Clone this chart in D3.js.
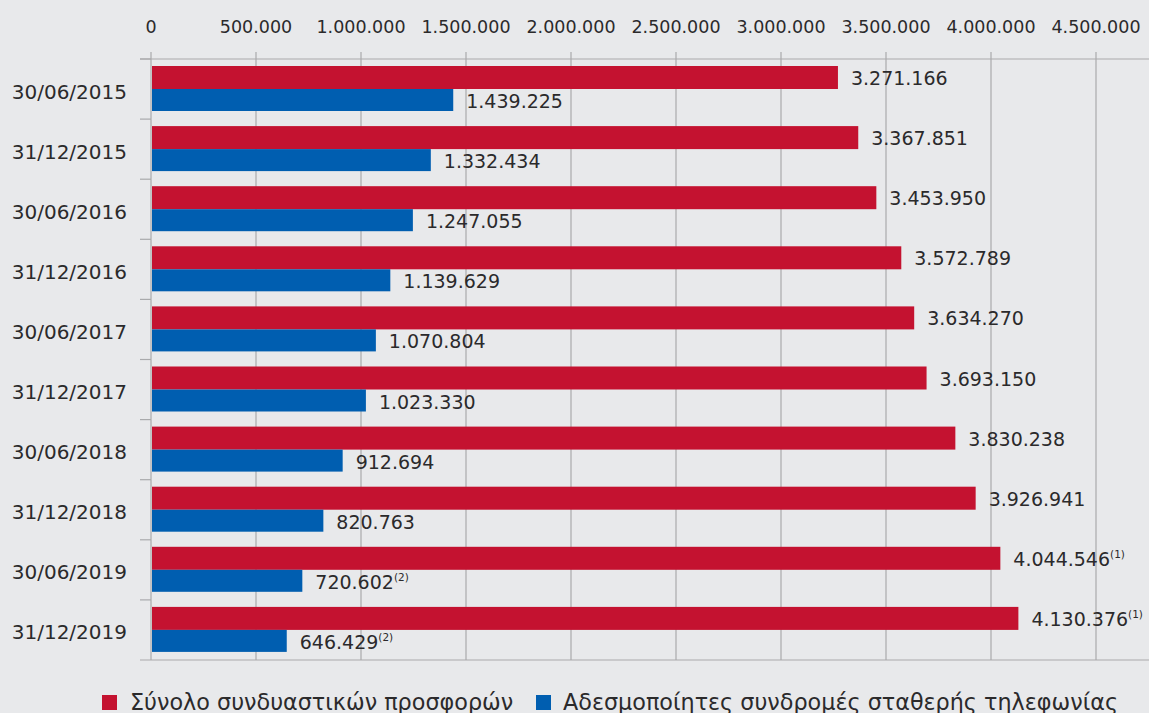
<!DOCTYPE html>
<html><head><meta charset="utf-8">
<script src="https://cdn.jsdelivr.net/npm/d3@7"></script>
<style>
html,body{margin:0;padding:0;background:#e8e9eb;}
svg{display:block;font-family:"DejaVu Sans","Noto Sans",sans-serif;}
</style></head>
<body>
<svg id="chart" width="1149" height="713"></svg>
<script>
const categories = ["30/06/2015","31/12/2015","30/06/2016","31/12/2016","30/06/2017","31/12/2017","30/06/2018","31/12/2018","30/06/2019","31/12/2019"];
const bundles = [3271166,3367851,3453950,3572789,3634270,3693150,3830238,3926941,4044546,4130376];
const standalone = [1439225,1332434,1247055,1139629,1070804,1023330,912694,820763,720602,646429];
const bundleNotes = ["","","","","","","","","(1)","(1)"];
const standaloneNotes = ["","","","","","","","","(2)","(2)"];
const tickValues = [0,500000,1000000,1500000,2000000,2500000,3000000,3500000,4000000,4500000];
const seriesNames = ["Σύνολο συνδυαστικών προσφορών","Αδεσμοποίητες συνδρομές σταθερής τηλεφωνίας"];
const colors = ["#c41230","#005eb0"];

const loc = d3.formatLocale({decimal:",",thousands:".",grouping:[3],currency:["","€"]});
const fmt = loc.format(",d");

const svg = d3.select("#chart");
const W = 1149, H = 713;
const ink = "#2b2a2b";
svg.append("rect").attr("width",W).attr("height",H).attr("fill","#e8e9eb");

const x = d3.scaleLinear().domain([0,4500000]).range([151,1096]);
const y = d3.scaleBand().domain(categories).range([59,660]).paddingInner(0).paddingOuter(0);
const grid = "#a9aaac";

svg.append("g").selectAll("line").data(tickValues).join("line")
  .attr("x1",d=>x(d)).attr("x2",d=>x(d)).attr("y1",52).attr("y2",660)
  .attr("stroke",grid).attr("stroke-width",1.2);
svg.append("line").attr("x1",140).attr("x2",W).attr("y1",59).attr("y2",59).attr("stroke",grid).attr("stroke-width",1.2);
svg.append("line").attr("x1",140).attr("x2",W).attr("y1",660).attr("y2",660).attr("stroke",grid).attr("stroke-width",1.2);
svg.append("g").selectAll("line").data(categories).join("line")
  .attr("x1",140).attr("x2",151).attr("y1",d=>y(d)).attr("y2",d=>y(d))
  .attr("stroke",grid).attr("stroke-width",1.2);

svg.append("g").selectAll("text").data(tickValues).join("text")
  .attr("x",d=>x(d)).attr("y",33).attr("text-anchor","middle")
  .attr("font-size",17.5).attr("fill",ink)
  .text(d=>d===0?"0":fmt(d));

svg.append("g").selectAll("text").data(categories).join("text")
  .attr("x",127).attr("y",d=>y(d)+y.bandwidth()/2+9.5).attr("text-anchor","end")
  .attr("font-size",20).attr("fill",ink).text(d=>d);

const barH = 23, off = 7;
const rows = categories.map((c,i)=>({c,i}));
svg.append("g").selectAll("rect").data(rows).join("rect")
  .attr("x",x(0)+1).attr("y",d=>y(d.c)+off).attr("height",barH)
  .attr("width",d=>x(bundles[d.i])-x(0)-1).attr("fill",colors[0]);
svg.append("g").selectAll("rect").data(rows).join("rect")
  .attr("x",x(0)+1).attr("y",d=>y(d.c)+off+barH).attr("height",barH-1)
  .attr("width",d=>x(standalone[d.i])-x(0)-1).attr("fill",colors[1]);

function labels(vals, notes, dy){
  const t = svg.append("g").selectAll("text").data(rows).join("text")
    .attr("x",d=>x(vals[d.i])+13).attr("y",d=>y(d.c)+dy)
    .attr("font-size",19).attr("fill",ink);
  t.append("tspan").text(d=>fmt(vals[d.i]));
  t.append("tspan").attr("font-size",10.5).attr("dy",-8).text(d=>notes[d.i]);
}
labels(bundles, bundleNotes, off+barH/2+7.5);
labels(standalone, standaloneNotes, off+barH+barH/2+7.5);

const leg = svg.append("g");
const legItems = [{x:102,tx:130},{x:536,tx:563}];
legItems.forEach((l,i)=>{
  leg.append("rect").attr("x",l.x).attr("y",695).attr("width",15).attr("height",15).attr("fill",colors[i]);
  leg.append("text").attr("x",l.tx).attr("y",710).attr("font-size",22.3).attr("fill",ink).text(seriesNames[i]);
});
</script>
</body></html>
